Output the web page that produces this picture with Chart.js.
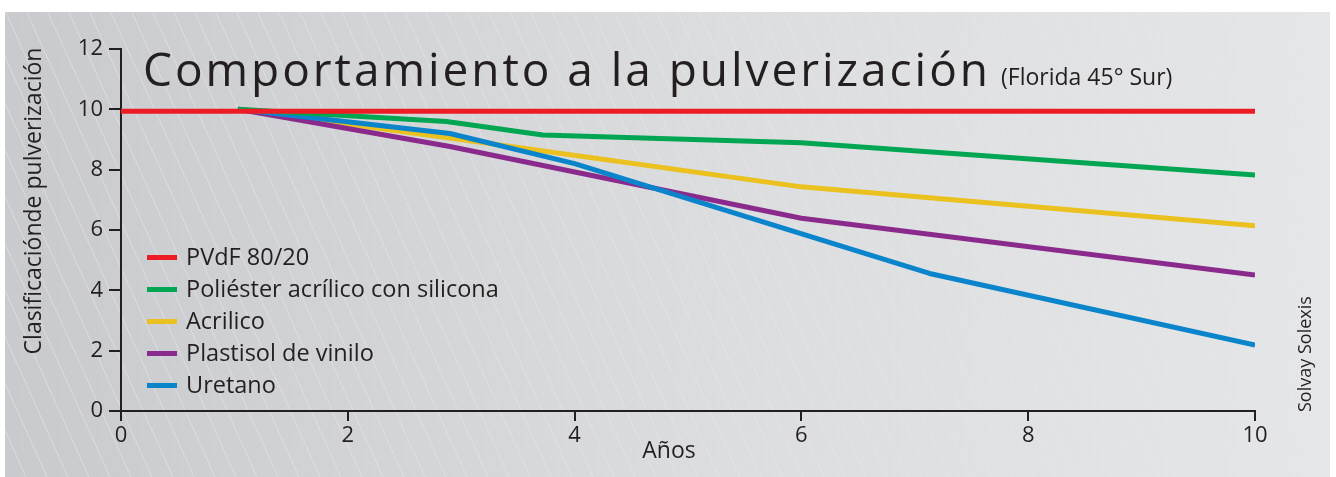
<!DOCTYPE html>
<html>
<head>
    <meta charset="utf-8">
    <title>Comportamiento a la pulverización</title>
    <script src="https://cdn.jsdelivr.net/npm/chart.js"></script>
    <style>
        body { margin: 0; background: #ffffff; }
        canvas { display: block; }
    </style>
</head>
<body>
    <canvas id="chalkingChart" width="1336" height="477"></canvas>

    <script>
        // Series: years of exposure and chalking rating
        var seriesNames = [
            "PVdF 80/20",
            "Poliéster acrílico con silicona",
            "Acrilico",
            "Plastisol de vinilo",
            "Uretano"
        ];
        var seriesColors = ["#ed1c24", "#00a651", "#eac11e", "#8a2a8d", "#0a84cb"];

        var pvdfYears = [0, 10];
        var pvdfValues = [9.94, 9.94];

        var polyesterYears = [1.03, 2.87, 3.72, 6, 10];
        var polyesterValues = [10, 9.6, 9.15, 8.89, 7.82];

        var acrylicYears = [1.03, 2.9, 6, 10];
        var acrylicValues = [10, 9.05, 7.43, 6.14];

        var plastisolYears = [1.03, 2.9, 6, 10];
        var plastisolValues = [10, 8.77, 6.39, 4.51];

        var urethaneYears = [1.03, 2.9, 4.0, 7.13, 10];
        var urethaneValues = [10, 9.2, 8.2, 4.56, 2.19];

        var xTicks = [0, 2, 4, 6, 8, 10];
        var yTicks = [0, 2, 4, 6, 8, 10, 12];

        // stacking: lower value is drawn on top
        var drawOrder = [0, 1, 4, 3, 2];

        var FONT = "'Open Sans', 'Noto Sans', sans-serif";
        var INK = "#231f20";

        function toPoints(xs, ys) {
            return xs.map(function (x, i) { return { x: x, y: ys[i] }; });
        }

        var allSeries = [
            toPoints(pvdfYears, pvdfValues),
            toPoints(polyesterYears, polyesterValues),
            toPoints(acrylicYears, acrylicValues),
            toPoints(plastisolYears, plastisolValues),
            toPoints(urethaneYears, urethaneValues)
        ];

        var datasets = allSeries.map(function (points, i) {
            return {
                label: seriesNames[i],
                data: points,
                borderColor: seriesColors[i],
                backgroundColor: seriesColors[i],
                borderWidth: 5,
                pointRadius: 0,
                tension: 0,
                borderJoinStyle: "round",
                order: drawOrder[i]
            };
        });

        // gray panel with faint diagonal hatching
        var backgroundPanel = {
            id: "backgroundPanel",
            beforeDraw: function (chart) {
                var ctx = chart.ctx;
                var x0 = 5, y0 = 12, x1 = 1330, y1 = 477;
                ctx.save();
                var grad = ctx.createLinearGradient(x0, 0, x1, 0);
                grad.addColorStop(0, "#c9cacd");
                grad.addColorStop(0.55, "#dcdddf");
                grad.addColorStop(1, "#e5e6e8");
                ctx.fillStyle = grad;
                ctx.fillRect(x0, y0, x1 - x0, y1 - y0);

                ctx.beginPath();
                ctx.rect(x0, y0, x1 - x0, y1 - y0);
                ctx.clip();
                var hatch = ctx.createLinearGradient(x0, 0, x1, 0);
                hatch.addColorStop(0, "rgba(255,255,255,0.32)");
                hatch.addColorStop(0.6, "rgba(255,255,255,0.16)");
                hatch.addColorStop(1, "rgba(255,255,255,0.03)");
                ctx.strokeStyle = hatch;
                ctx.lineWidth = 1;
                var run = 0.45 * (y1 - y0);
                ctx.beginPath();
                for (var x = x0 - run; x < x1; x += 21) {
                    ctx.moveTo(x, y0);
                    ctx.lineTo(x + run, y1);
                }
                ctx.stroke();
                ctx.restore();
            }
        };

        // title, axis titles, legend and source note
        var annotations = {
            id: "annotations",
            afterDraw: function (chart) {
                var ctx = chart.ctx;
                ctx.save();
                ctx.fillStyle = INK;

                // main title stretched to its width
                var title = "Comportamiento a la pulverización";
                ctx.font = "46px " + FONT;
                ctx.textBaseline = "alphabetic";
                ctx.textAlign = "left";
                ctx.letterSpacing = "0px";
                var w = ctx.measureText(title).width;
                ctx.letterSpacing = ((845 - w) / (title.length - 1)) + "px";
                ctx.fillText(title, 143, 86);
                ctx.letterSpacing = "0px";

                ctx.font = "23px " + FONT;
                ctx.fillText("(Florida 45° Sur)", 1001, 85);

                // axis titles
                ctx.font = "23px " + FONT;
                ctx.textAlign = "center";
                ctx.textBaseline = "middle";
                ctx.fillText("Años", 669, 451);

                ctx.save();
                ctx.translate(34, 201);
                ctx.rotate(-Math.PI / 2);
                ctx.fillText("Clasificaciónde pulverización", 0, 0);
                ctx.restore();

                ctx.save();
                ctx.font = "18px " + FONT;
                ctx.translate(1306, 412);
                ctx.rotate(-Math.PI / 2);
                ctx.textAlign = "left";
                ctx.fillText("Solvay Solexis", 0, 0);
                ctx.restore();

                // legend
                ctx.font = "23.5px " + FONT;
                ctx.textAlign = "left";
                ctx.textBaseline = "middle";
                chart.data.datasets.forEach(function (ds, i) {
                    var y = 257 + i * 32;
                    ctx.fillStyle = ds.borderColor;
                    ctx.fillRect(147, y - 2, 30, 5);
                    ctx.fillStyle = INK;
                    ctx.fillText(ds.label, 186, y + 1);
                });
                ctx.restore();
            }
        };

        var canvas = document.getElementById("chalkingChart");

        var chart = new Chart(canvas, {
            type: "line",
            data: { datasets: datasets },
            options: {
                responsive: false,
                animation: false,
                layout: { padding: { left: 0, right: 81, top: 49, bottom: 0 } },
                plugins: {
                    legend: { display: false },
                    title: { display: false },
                    tooltip: { enabled: false }
                },
                scales: {
                    x: {
                        type: "linear",
                        min: 0,
                        max: 10,
                        afterFit: function (scale) { scale.height = 66; },
                        afterBuildTicks: function (scale) {
                            scale.ticks = xTicks.map(function (v) { return { value: v }; });
                        },
                        border: { display: true, color: INK, width: 2 },
                        grid: {
                            drawOnChartArea: false,
                            drawTicks: true,
                            tickLength: 10,
                            tickColor: INK,
                            lineWidth: 2
                        },
                        ticks: {
                            color: INK,
                            padding: 2,
                            font: { family: FONT, size: 22 }
                        }
                    },
                    y: {
                        min: 0,
                        max: 12,
                        afterFit: function (scale) { scale.width = 121; },
                        afterBuildTicks: function (scale) {
                            scale.ticks = yTicks.map(function (v) { return { value: v }; });
                        },
                        border: { display: true, color: INK, width: 2 },
                        grid: {
                            drawOnChartArea: false,
                            drawTicks: true,
                            tickLength: 12,
                            tickColor: INK,
                            lineWidth: 2
                        },
                        ticks: {
                            color: INK,
                            padding: 6,
                            font: { family: FONT, size: 22 }
                        }
                    }
                }
            },
            plugins: [backgroundPanel, annotations]
        });
    </script>
</body>
</html>
